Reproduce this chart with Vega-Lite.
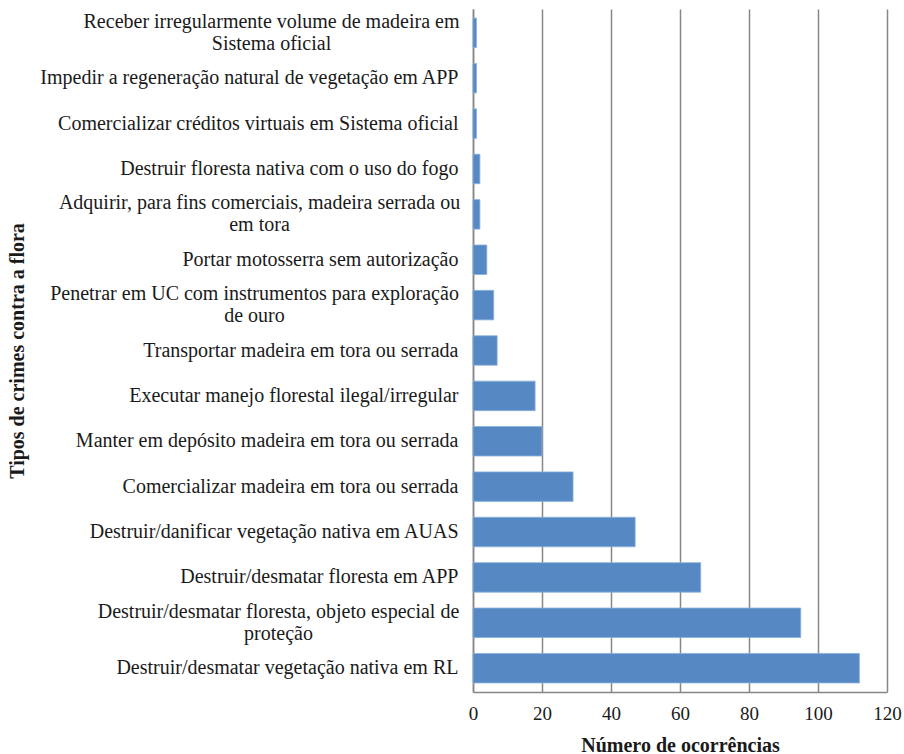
{
  "$schema": "https://vega.github.io/schema/vega-lite/v6.json",
  "autosize": {"type": "none"},
  "padding": {"left": 473, "top": 9, "right": 17, "bottom": 62},
  "width": 414,
  "height": 683,
  "background": "white",
  "config": {
    "view": {"stroke": null},
    "font": "Liberation Serif",
    "axis": {"labelFont": "Liberation Serif", "titleFont": "Liberation Serif", "labelColor": "#1a1a1a", "titleColor": "#1a1a1a"}
  },
  "data": {
    "values": [
      {"crime": "Receber irregularmente volume de madeira em Sistema oficial", "n": 1},
      {"crime": "Impedir a regeneração natural de vegetação em APP", "n": 1},
      {"crime": "Comercializar créditos virtuais em Sistema oficial", "n": 1},
      {"crime": "Destruir floresta nativa com o uso do fogo", "n": 2},
      {"crime": "Adquirir, para fins comerciais, madeira serrada ou em tora", "n": 2},
      {"crime": "Portar motosserra sem autorização", "n": 4},
      {"crime": "Penetrar em UC com instrumentos para exploração de ouro", "n": 6},
      {"crime": "Transportar madeira em tora ou serrada", "n": 7},
      {"crime": "Executar manejo florestal ilegal/irregular", "n": 18},
      {"crime": "Manter em depósito madeira em tora ou serrada", "n": 20},
      {"crime": "Comercializar madeira em tora ou serrada", "n": 29},
      {"crime": "Destruir/danificar vegetação nativa em AUAS", "n": 47},
      {"crime": "Destruir/desmatar floresta em APP", "n": 66},
      {"crime": "Destruir/desmatar floresta, objeto especial de proteção", "n": 95},
      {"crime": "Destruir/desmatar vegetação nativa em RL", "n": 112}
    ]
  },
  "mark": {"type": "bar", "color": "#5689C3", "stroke": "#8AB0DC", "strokeWidth": 0.8},
  "encoding": {
    "y": {
      "field": "crime",
      "type": "nominal",
      "sort": null,
      "scale": {"paddingInner": 0.35, "paddingOuter": 0.2},
      "axis": {
        "title": "Tipos de crimes contra a flora",
        "titleFontSize": 20,
        "titleFontWeight": "bold",
        "titleX": -446,
        "titleY": 341.5,
        "titleAngle": 270,
        "titleBaseline": "bottom",
        "titleAlign": "center",
        "labelFontSize": 20,
        "labelLimit": 0,
        "labelLineHeight": 22,
        "ticks": false,
        "tickSize": 0,
        "labelPadding": {
          "condition": [
            {"test": "datum.value == 'Receber irregularmente volume de madeira em Sistema oficial'", "value": 202},
            {"test": "datum.value == 'Adquirir, para fins comerciais, madeira serrada ou em tora'", "value": 214},
            {"test": "datum.value == 'Penetrar em UC com instrumentos para exploração de ouro'", "value": 219},
            {"test": "datum.value == 'Destruir/desmatar floresta, objeto especial de proteção'", "value": 195}
          ],
          "value": 15
        },
        "labelAlign": {"condition": {"test": "length(datum.value) > 52", "value": "center"}, "value": "right"},
        "labelOffset": {"condition": {"test": "length(datum.value) > 52", "value": -11}, "value": 0},
        "domainColor": "#878787",
        "domainWidth": 1.5,
        "grid": false,
        "labelExpr": "datum.label == 'Receber irregularmente volume de madeira em Sistema oficial' ? ['Receber irregularmente volume de madeira em', 'Sistema oficial'] : datum.label == 'Adquirir, para fins comerciais, madeira serrada ou em tora' ? ['Adquirir, para fins comerciais, madeira serrada ou', 'em tora'] : datum.label == 'Penetrar em UC com instrumentos para exploração de ouro' ? ['Penetrar em UC com instrumentos para exploração', 'de ouro'] : datum.label == 'Destruir/desmatar floresta, objeto especial de proteção' ? ['Destruir/desmatar floresta, objeto especial de', 'proteção'] : datum.label"
      }
    },
    "x": {
      "field": "n",
      "type": "quantitative",
      "scale": {"domain": [0, 120], "nice": false},
      "axis": {
        "title": "Número de ocorrências",
        "titleFontSize": 20,
        "titleFontWeight": "bold",
        "titlePadding": 12,
        "values": [0, 20, 40, 60, 80, 100, 120],
        "labelFontSize": 19,
        "labelPadding": 12,
        "labelFlush": false,
        "ticks": false,
        "tickSize": 0,
        "grid": true,
        "gridColor": "#878787",
        "gridWidth": 1.5,
        "domainColor": "#878787",
        "domainWidth": 1.5
      }
    }
  }
}
